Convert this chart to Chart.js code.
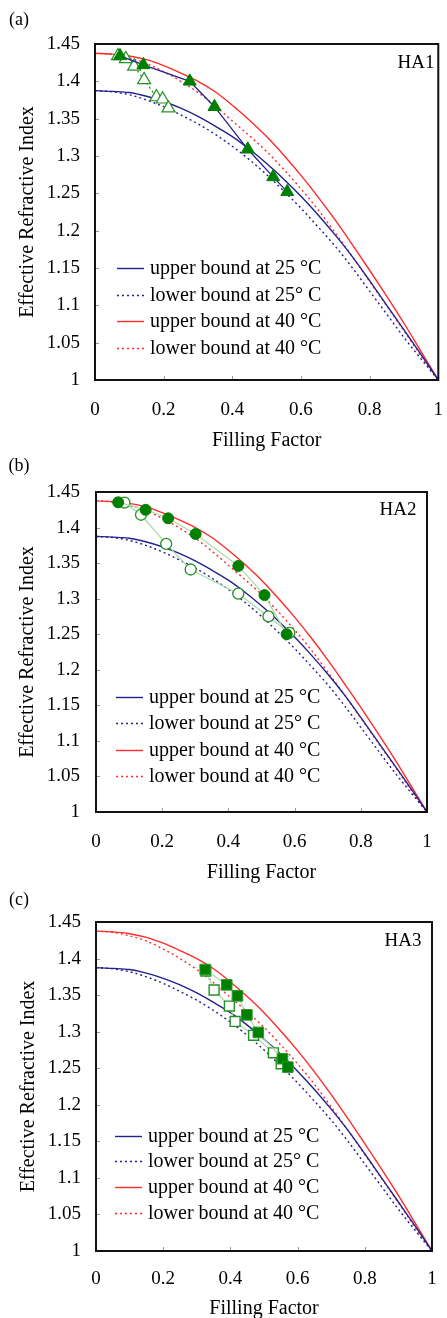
<!DOCTYPE html>
<html>
<head>
<meta charset="utf-8">
<script src="https://cdn.jsdelivr.net/npm/chart.js@4.4.0/dist/chart.umd.min.js"></script>
<style>
  html, body { margin: 0; padding: 0; background: #fff; }
  body { width: 447px; height: 1318px; position: relative; overflow: hidden; }
  canvas { position: absolute; left: 0; }
</style>
</head>
<body>
<canvas id="chartA" width="447" height="452" style="top:0px"></canvas>
<canvas id="chartB" width="447" height="433" style="top:452px"></canvas>
<canvas id="chartC" width="447" height="433" style="top:885px"></canvas>
<script>
// bound curves (same in all three panels)
const fillFactor = [0, 0.05, 0.1, 0.15, 0.2, 0.25, 0.3, 0.35, 0.4, 0.45, 0.5, 0.55, 0.6, 0.65, 0.7, 0.75, 0.8, 0.85, 0.9, 0.95, 1];
const upper25 = [1.3875, 1.3865, 1.385, 1.380, 1.373, 1.364, 1.353, 1.340, 1.326, 1.309, 1.290, 1.269, 1.246, 1.221, 1.194, 1.165, 1.133, 1.100, 1.067, 1.034, 1.000];
const lower25 = [1.3875, 1.386, 1.382, 1.375, 1.366, 1.355, 1.343, 1.329, 1.313, 1.295, 1.275, 1.253, 1.230, 1.205, 1.179, 1.150, 1.119, 1.088, 1.057, 1.028, 1.000];
const upper40 = [1.4375, 1.4365, 1.434, 1.429, 1.421, 1.411, 1.400, 1.386, 1.368, 1.348, 1.326, 1.301, 1.274, 1.245, 1.214, 1.181, 1.147, 1.112, 1.076, 1.038, 1.000];
const lower40 = [1.4375, 1.436, 1.431, 1.424, 1.413, 1.400, 1.385, 1.367, 1.347, 1.327, 1.306, 1.282, 1.256, 1.228, 1.197, 1.165, 1.132, 1.099, 1.066, 1.032, 1.000];
const legendLabels = ['upper bound at 25 °C', 'lower bound at 25° C', 'upper bound at 40 °C', 'lower bound at 40 °C'];

// measured points
const ha1FilledFF = [0.073, 0.141, 0.276, 0.348, 0.445, 0.519, 0.560];
const ha1FilledN  = [1.434, 1.422, 1.400, 1.366, 1.309, 1.272, 1.252];
const ha1OpenFF   = [0.067, 0.090, 0.114, 0.143, 0.179, 0.197, 0.214];
const ha1OpenN    = [1.434, 1.430, 1.420, 1.402, 1.379, 1.376, 1.364];

const ha2FilledFF = [0.067, 0.150, 0.218, 0.301, 0.430, 0.509, 0.576];
const ha2FilledN  = [1.4355, 1.425, 1.413, 1.391, 1.346, 1.305, 1.250];
const ha2OpenFF   = [0.086, 0.136, 0.212, 0.286, 0.430, 0.521, 0.584];
const ha2OpenN    = [1.435, 1.418, 1.377, 1.341, 1.307, 1.275, 1.252];

const ha3FilledFF = [0.325, 0.389, 0.421, 0.449, 0.483, 0.555, 0.571];
const ha3FilledN  = [1.385, 1.364, 1.349, 1.323, 1.299, 1.263, 1.2515];
const ha3OpenFF   = [0.327, 0.3515, 0.397, 0.414, 0.469, 0.528, 0.551];
const ha3OpenN    = [1.383, 1.357, 1.335, 1.314, 1.295, 1.271, 1.256];

const xTickValues = [0, 0.2, 0.4, 0.6, 0.8, 1];
const xTickLabels = ['0', '0.2', '0.4', '0.6', '0.8', '1'];
const yTickValues = [1, 1.05, 1.1, 1.15, 1.2, 1.25, 1.3, 1.35, 1.4, 1.45];
const yTickLabels = ['1', '1.05', '1.1', '1.15', '1.2', '1.25', '1.3', '1.35', '1.4', '1.45'];

const SERIF = '"Liberation Serif", "Times New Roman", serif';
const NAVY = '#22228e';
const RED = '#ff2a2a';
const GREEN = '#008000';
const OPEN_GREEN = '#249124';
const PALE_GREEN = '#a9d9a9';

const toXY = (xs, ys) => xs.map((x, i) => ({ x: x, y: ys[i] }));

// frame, inner tick marks, panel letter, sample name, legend
const panelDeco = {
    id: 'panelDeco',
    afterDatasetsDraw(chart, args, opts) {
        const { ctx, chartArea: a, scales } = chart;
        ctx.save();
        // small inward ticks
        ctx.strokeStyle = '#9a9a9a';
        ctx.lineWidth = 1;
        ctx.beginPath();
        xTickValues.slice(1, -1).forEach(v => {
            const px = Math.round(scales.x.getPixelForValue(v)) + 0.5;
            ctx.moveTo(px, a.bottom);
            ctx.lineTo(px, a.bottom - 4);
        });
        yTickValues.slice(1, -1).forEach(v => {
            const py = Math.round(scales.y.getPixelForValue(v)) + 0.5;
            ctx.moveTo(a.left, py);
            ctx.lineTo(a.left + 4, py);
        });
        ctx.stroke();
        // box
        ctx.strokeStyle = '#111';
        ctx.lineWidth = 2;
        ctx.strokeRect(a.left, a.top, a.right - a.left, a.bottom - a.top);

        ctx.fillStyle = '#000';
        ctx.textBaseline = 'middle';
        ctx.font = '18px ' + SERIF;
        ctx.textAlign = 'center';
        ctx.fillText(opts.letter, 19, opts.letterY);
        ctx.font = '19px ' + SERIF;
        ctx.fillText(opts.name, opts.nameX, opts.nameY);

        // legend for the four bounds
        ctx.font = '20px ' + SERIF;
        ctx.textAlign = 'left';
        const bounds = chart.data.datasets.filter(d => d.inLegend);
        bounds.forEach((d, i) => {
            const y = Math.round(opts.legendY + i * opts.legendStep) + 0.5;
            ctx.strokeStyle = d.borderColor;
            ctx.lineWidth = d.borderWidth;
            ctx.setLineDash(d.borderDash || []);
            ctx.beginPath();
            ctx.moveTo(opts.legendX, y);
            ctx.lineTo(opts.legendX + 27, y);
            ctx.stroke();
            ctx.setLineDash([]);
            ctx.fillText(d.label, opts.legendX + 33, y);
        });
        ctx.restore();
    }
};

function boundSets() {
    const base = { pointRadius: 0, borderWidth: 1.4, cubicInterpolationMode: 'monotone', inLegend: true, order: 5, fill: false };
    return [
        Object.assign({}, base, { label: legendLabels[0], data: toXY(fillFactor, upper25), borderColor: NAVY }),
        Object.assign({}, base, { label: legendLabels[1], data: toXY(fillFactor, lower25), borderColor: NAVY, borderDash: [2, 3] }),
        Object.assign({}, base, { label: legendLabels[2], data: toXY(fillFactor, upper40), borderColor: RED }),
        Object.assign({}, base, { label: legendLabels[3], data: toXY(fillFactor, lower40), borderColor: RED, borderDash: [2, 3] })
    ];
}

function buildPanel(canvasId, geo, markerSets) {
    const canvas = document.getElementById(canvasId);
    const W = canvas.width, H = canvas.height;
    return new Chart(canvas, {
        type: 'line',
        data: { datasets: markerSets.concat(boundSets()) },
        options: {
            responsive: false,
            animation: false,
            devicePixelRatio: 1,
            layout: { padding: { left: 0, top: geo.top, right: W - geo.right, bottom: 0 } },
            plugins: {
                legend: { display: false },
                tooltip: { enabled: false },
                panelDeco: geo.deco
            },
            scales: {
                x: {
                    type: 'linear', min: 0, max: 1,
                    afterBuildTicks: s => { s.ticks = xTickValues.map(v => ({ value: v })); },
                    afterFit: s => { s.height = H - geo.bottom; s.paddingLeft = 0; s.paddingRight = 0; },
                    grid: { display: false, drawTicks: false },
                    border: { display: false },
                    ticks: {
                        padding: geo.xTickPad, color: '#000', maxRotation: 0, autoSkip: false,
                        font: { family: SERIF, size: 19 },
                        callback: (v, i) => xTickLabels[i]
                    },
                    title: {
                        display: true, text: 'Filling Factor', color: '#000',
                        font: { family: SERIF, size: 20, lineHeight: 1 },
                        padding: { top: 0, bottom: geo.xTitlePad }
                    }
                },
                y: {
                    type: 'linear', min: 1, max: 1.45,
                    afterBuildTicks: s => { s.ticks = yTickValues.map(v => ({ value: v })); },
                    afterFit: s => { s.width = geo.left; s.paddingTop = 0; s.paddingBottom = 0; },
                    grid: { display: false, drawTicks: false },
                    border: { display: false },
                    ticks: {
                        padding: geo.yTickPad, color: '#000', autoSkip: false,
                        font: { family: SERIF, size: 19 },
                        callback: (v, i) => yTickLabels[i]
                    },
                    title: {
                        display: true, text: 'Effective Refractive Index', color: '#000',
                        font: { family: SERIF, size: 20, lineHeight: 1 },
                        padding: { top: geo.yTitlePad, bottom: 0 }
                    }
                }
            }
        },
        plugins: [panelDeco]
    });
}

// (a) HA1
buildPanel('chartA',
    { left: 95, right: 445, top: 44, bottom: 380, xTickPad: 18.6, yTickPad: 15, xTitlePad: 1, yTitlePad: 18,
      deco: { letter: '(a)', letterY: 20, name: 'HA1', nameX: 416, nameY: 63, legendX: 117, legendY: 268, legendStep: 26.7 } },
    [
        { label: 'HA1 filled', data: toXY(ha1FilledFF, ha1FilledN), order: 0, showLine: true,
          borderColor: NAVY, borderWidth: 1.3, pointStyle: 'triangle', pointRadius: 7.5,
          pointBackgroundColor: GREEN, pointBorderColor: GREEN, pointBorderWidth: 1 },
        { label: 'HA1 open', data: toXY(ha1OpenFF, ha1OpenN), order: 1, showLine: true,
          borderColor: OPEN_GREEN, borderWidth: 1.3, borderDash: [2, 3], pointStyle: 'triangle', pointRadius: 7.5,
          pointBackgroundColor: '#fff', pointBorderColor: OPEN_GREEN, pointBorderWidth: 1.2 }
    ]);

// (b) HA2
buildPanel('chartB',
    { left: 96, right: 427, top: 40, bottom: 360, xTickPad: 18.6, yTickPad: 16, xTitlePad: 2, yTitlePad: 17.5,
      deco: { letter: '(b)', letterY: 14, name: 'HA2', nameX: 398, nameY: 58, legendX: 116, legendY: 244.7, legendStep: 26.4 } },
    [
        { label: 'HA2 filled', data: toXY(ha2FilledFF, ha2FilledN), order: 0, showLine: true,
          borderColor: PALE_GREEN, borderWidth: 1.2, pointStyle: 'circle', pointRadius: 5.5,
          pointBackgroundColor: GREEN, pointBorderColor: GREEN, pointBorderWidth: 1 },
        { label: 'HA2 open', data: toXY(ha2OpenFF, ha2OpenN), order: 1, showLine: true,
          borderColor: PALE_GREEN, borderWidth: 1.2, pointStyle: 'circle', pointRadius: 5.5,
          pointBackgroundColor: '#fff', pointBorderColor: OPEN_GREEN, pointBorderWidth: 1.3 }
    ]);

// (c) HA3
buildPanel('chartC',
    { left: 96, right: 432, top: 37, bottom: 366, xTickPad: 17, yTickPad: 15, xTitlePad: -1, yTitlePad: 19,
      deco: { letter: '(c)', letterY: 15, name: 'HA3', nameX: 403, nameY: 56, legendX: 115, legendY: 250.7, legendStep: 25.7 } },
    [
        { label: 'HA3 filled', data: toXY(ha3FilledFF, ha3FilledN), order: 0, showLine: true,
          borderColor: PALE_GREEN, borderWidth: 1.2, pointStyle: 'rect', pointRadius: 7.5,
          pointBackgroundColor: GREEN, pointBorderColor: '#2c9a2c', pointBorderWidth: 1 },
        { label: 'HA3 open', data: toXY(ha3OpenFF, ha3OpenN), order: 1, showLine: true,
          borderColor: PALE_GREEN, borderWidth: 1.2, pointStyle: 'rect', pointRadius: 7,
          pointBackgroundColor: '#fff', pointBorderColor: OPEN_GREEN, pointBorderWidth: 1.4 }
    ]);
</script>
</body>
</html>
